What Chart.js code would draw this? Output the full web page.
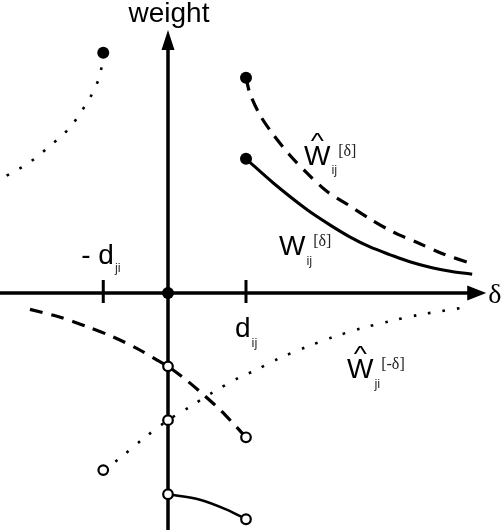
<!DOCTYPE html>
<html>
<head>
<meta charset="utf-8">
<script src="https://cdn.jsdelivr.net/npm/chart.js@4.4.0/dist/chart.umd.min.js"></script>
<style>
  html, body { margin: 0; padding: 0; background: #fff; }
  #wrap { width: 504px; height: 530px; position: relative; }
</style>
</head>
<body>
<div id="wrap"><canvas id="weightChart"></canvas></div>
<script>
// values in units of d_ij (delta on x, weight on y)
const wIjX = [1.0, 1.35, 1.78, 2.08, 2.33, 2.59, 2.85, 3.10, 3.36, 3.62, 3.90];
const wIjY = [1.72, 1.41, 1.07, 0.87, 0.72, 0.59, 0.49, 0.40, 0.33, 0.28, 0.24];

const wHatIjX = [1.0, 1.05, 1.18, 1.35, 1.56, 1.78, 2.04, 2.31, 2.59, 2.89, 3.21, 3.53, 3.87];
const wHatIjY = [2.76, 2.56, 2.28, 2.03, 1.77, 1.54, 1.30, 1.13, 0.95, 0.78, 0.64, 0.50, 0.385];

const dotUpperX = [-0.83, -0.87, -0.94, -1.03, -1.13, -1.24, -1.37, -1.51, -1.65, -1.81, -1.97, -2.13];
const dotUpperY = [3.08, 2.80, 2.62, 2.45, 2.30, 2.14, 2.01, 1.89, 1.77, 1.65, 1.56, 1.47];

const dashLowerX = [-1.77, -1.38, -1.04, -0.71, -0.40, -0.14, 0, 0.24, 0.45, 0.67, 0.88, 1.0];
const dashLowerY = [-0.21, -0.31, -0.43, -0.56, -0.71, -0.86, -0.94, -1.12, -1.30, -1.50, -1.72, -1.85];

const wHatJiX = [-0.83, -0.62, -0.32, 0, 0.28, 0.58, 0.92, 1.10, 1.44, 1.78, 2.13, 2.49, 2.85, 3.22, 3.77];
const wHatJiY = [-2.27, -2.12, -1.87, -1.63, -1.46, -1.27, -1.08, -1.0, -0.83, -0.69, -0.56, -0.45, -0.36, -0.28, -0.19];

const solidLowerX = [0, 0.41, 0.76, 1.0];
const solidLowerY = [-2.58, -2.65, -2.78, -2.90];

const filledX = [-0.83, 1.0, 1.0, 0];
const filledY = [3.08, 2.76, 1.72, 0];
const hollowX = [0, 1.0, 0, -0.83, 0, 1.0];
const hollowY = [-0.94, -1.85, -1.63, -2.27, -2.58, -2.90];

const tickX = [-0.83, 1.0];
const tickLabels = ['- d', 'd'];
const tickSubs = ['ji', 'ij'];

const xRange = [-2.154, 4.308];
const yRange = [-3.038, 3.756];
const xAxisEnd = 4.08;
const yAxisEnd = 3.37;

const sans = '"Liberation Sans", Arial, sans-serif';
const serif = '"Liberation Serif", "Times New Roman", serif';

const toPts = (xs, ys) => xs.map((x, i) => ({ x: x, y: ys[i] }));

function curve(xs, ys, width, dash) {
    return {
        data: toPts(xs, ys),
        showLine: true,
        borderColor: '#000',
        borderWidth: width,
        borderDash: dash,
        borderCapStyle: 'butt',
        pointRadius: 0,
        tension: 0.3,
        fill: false
    };
}

function drawTerm(ctx, left, base, t) {
    ctx.textAlign = 'left';
    ctx.textBaseline = 'alphabetic';
    ctx.fillStyle = '#000';
    ctx.font = '28px ' + sans;
    ctx.fillText(t.main, left, base);
    const w = ctx.measureText(t.main).width;
    if (t.hat) {
        ctx.save();
        ctx.translate(left + w / 2, base - 17);
        ctx.scale(1, 0.8);
        ctx.textAlign = 'center';
        ctx.fillText('^', 0, 0);
        ctx.restore();
    }
    let cx = left + w + 1;
    if (t.sub) {
        ctx.font = '13px ' + sans;
        ctx.fillStyle = '#333';
        ctx.fillText(t.sub, cx, base + t.subDy);
        cx += ctx.measureText(t.sub).width + 1;
    }
    if (t.sup) {
        ctx.font = '16px ' + serif;
        ctx.fillStyle = '#222';
        ctx.fillText(t.sup, cx, base - 9);
    }
}

const axesPlugin = {
    id: 'axes',
    beforeDatasetsDraw(chart) {
        const { ctx, scales: { x, y } } = chart;
        const x0 = x.getPixelForValue(0);
        const y0 = y.getPixelForValue(0);
        const xl = x.getPixelForValue(xRange[0]);
        const xr = x.getPixelForValue(xAxisEnd);
        const yb = y.getPixelForValue(yRange[0]);
        const yt = y.getPixelForValue(yAxisEnd);
        ctx.save();
        ctx.strokeStyle = '#000';
        ctx.fillStyle = '#000';
        ctx.lineWidth = 3.5;
        ctx.beginPath();
        ctx.moveTo(xl, y0); ctx.lineTo(xr - 16, y0);
        ctx.moveTo(x0, yb); ctx.lineTo(x0, yt + 18);
        ctx.stroke();
        // arrow heads
        ctx.beginPath();
        ctx.moveTo(xr, y0); ctx.lineTo(xr - 19, y0 - 7.5); ctx.lineTo(xr - 19, y0 + 7.5);
        ctx.closePath();
        ctx.moveTo(x0, yt); ctx.lineTo(x0 - 6.5, yt + 20); ctx.lineTo(x0 + 6.5, yt + 20);
        ctx.closePath();
        ctx.fill();
        // ticks at -d_ji and d_ij
        ctx.lineWidth = 3;
        ctx.beginPath();
        tickX.forEach(v => {
            const px = x.getPixelForValue(v);
            ctx.moveTo(px, y0 - 13); ctx.lineTo(px, y0 + 10);
        });
        ctx.stroke();
        ctx.restore();
    },
    afterDraw(chart) {
        const { ctx, scales: { x, y } } = chart;
        const x0 = x.getPixelForValue(0);
        const y0 = y.getPixelForValue(0);
        ctx.save();
        // axis titles
        ctx.fillStyle = '#000';
        ctx.font = '28px ' + sans;
        ctx.textAlign = 'center';
        ctx.textBaseline = 'alphabetic';
        ctx.fillText('weight', x0 + 1, 22);
        ctx.font = '28px ' + serif;
        ctx.textAlign = 'left';
        ctx.fillText('δ', x.getPixelForValue(xAxisEnd) + 2, y0 + 10);
        // tick labels
        drawTerm(ctx, x.getPixelForValue(tickX[0]) - 22, y0 - 29,
            { main: tickLabels[0], sub: tickSubs[0], subDy: 8 });
        drawTerm(ctx, x.getPixelForValue(tickX[1]) - 11, y0 + 44,
            { main: tickLabels[1], sub: tickSubs[1], subDy: 10 });
        // curve labels
        drawTerm(ctx, 304, 165, { main: 'W', hat: true, sub: 'ij', subDy: 9, sup: '[δ]' });
        drawTerm(ctx, 279, 255, { main: 'W', sub: 'ij', subDy: 10, sup: '[δ]' });
        drawTerm(ctx, 347, 378, { main: 'W', hat: true, sub: 'ji', subDy: 10, sup: '[-δ]' });
        ctx.restore();
    }
};

new Chart(document.getElementById('weightChart'), {
    type: 'scatter',
    data: {
        datasets: [
            {
                data: toPts(filledX, filledY),
                pointRadius: 6,
                pointBackgroundColor: '#000',
                pointBorderColor: '#000',
                pointBorderWidth: 0,
                showLine: false
            },
            {
                data: toPts(hollowX, hollowY),
                pointRadius: 4.8,
                pointBackgroundColor: '#fff',
                pointBorderColor: '#000',
                pointBorderWidth: 2.2,
                showLine: false
            },
            curve(wIjX, wIjY, 3, []),
            curve(wHatIjX, wHatIjY, 3.2, [13, 9]),
            curve(dotUpperX, dotUpperY, 2.6, [2.6, 12]),
            curve(dashLowerX, dashLowerY, 3.2, [13, 9]),
            curve(wHatJiX, wHatJiY, 2.6, [2.6, 12]),
            curve(solidLowerX, solidLowerY, 2.5, [])
        ]
    },
    options: {
        responsive: true,
        maintainAspectRatio: false,
        animation: false,
        layout: { padding: 0, autoPadding: false },
        plugins: { legend: { display: false }, tooltip: { enabled: false } },
        scales: {
            x: { type: 'linear', display: false, min: xRange[0], max: xRange[1] },
            y: { type: 'linear', display: false, min: yRange[0], max: yRange[1] }
        }
    },
    plugins: [axesPlugin]
});
</script>
</body>
</html>
